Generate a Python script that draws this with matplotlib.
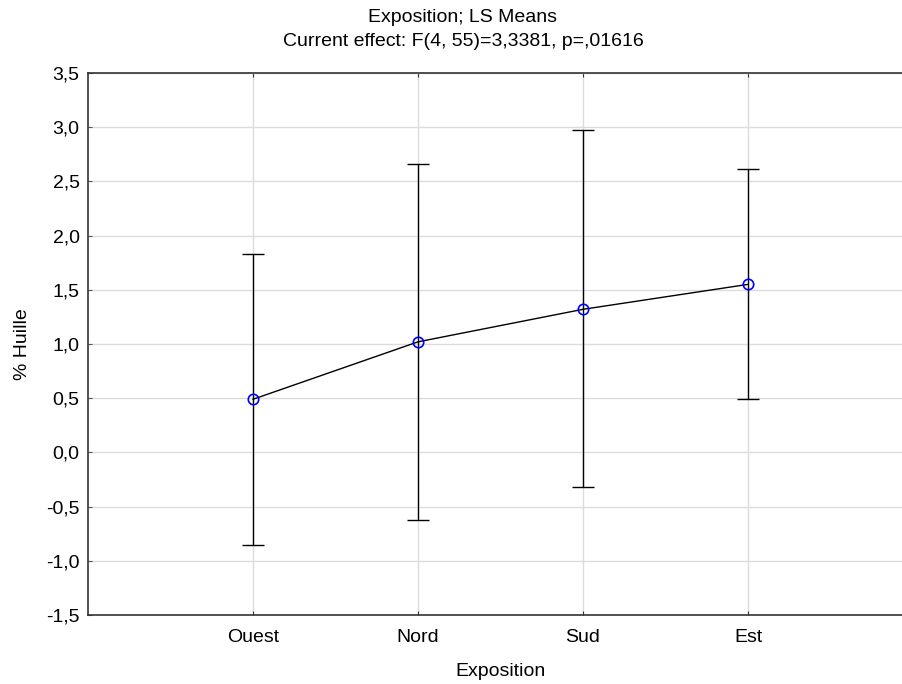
import matplotlib
matplotlib.use("Agg")
import matplotlib.pyplot as plt

categories = ["Ouest", "Nord", "Sud", "Est"]
means = [0.49, 1.02, 1.32, 1.55]
lower = [-0.85, -0.62, -0.32, 0.49]
upper = [1.83, 2.66, 2.97, 2.61]
yticks = [-1.5, -1.0, -0.5, 0.0, 0.5, 1.0, 1.5, 2.0, 2.5, 3.0, 3.5]

plt.rcParams['font.family'] = ['Liberation Sans', 'DejaVu Sans']
FS = 14

fig = plt.figure(figsize=(9.02, 6.84), dpi=100)
ax = fig.add_axes([88/902, (684-615)/684, (913-88)/902, (615-73)/684])

x = list(range(1, len(categories) + 1))
yerr = [[m - l for m, l in zip(means, lower)], [u - m for u, m in zip(upper, means)]]
ax.errorbar(x, means, yerr=yerr, fmt='none', ecolor='black', elinewidth=1, capsize=8, capthick=1, zorder=3)
ax.plot(x, means, color='black', lw=1, zorder=4)
ax.plot(x, means, 'o', mfc='none', mec='#0000ff', mew=1.2, ms=7.5, zorder=5)

ax.set_xlim(0, 5)
ax.set_ylim(-1.5, 3.5)
ax.set_xticks(x)
ax.set_xticklabels(categories)
ax.set_yticks(yticks)
ax.set_yticklabels([f"{v:.1f}".replace('.', ',') for v in yticks])
ax.grid(True, color='#dcdcdc', lw=1)
ax.set_axisbelow(True)
for s in ['left', 'top', 'bottom']:
    ax.spines[s].set_color('#333333')
    ax.spines[s].set_linewidth(1.2)
ax.spines['right'].set_visible(False)
ax.tick_params(axis='x', direction='in', length=3, top=True, labelsize=FS, pad=10, color='#333333')
ax.tick_params(axis='y', direction='in', length=3, labelsize=FS, pad=6, color='#555555')

ax.set_xlabel("Exposition", fontsize=FS, labelpad=12)
ax.set_ylabel("% Huille", fontsize=FS, labelpad=11)
fig.text(463/902, 1 - 18/684, "Exposition; LS Means", ha='center', va='center', fontsize=FS)
fig.text(463/902, 1 - 42/684, "Current effect: F(4, 55)=3,3381, p=,01616", ha='center', va='center', fontsize=FS)

fig.savefig("out.png", dpi=100)
